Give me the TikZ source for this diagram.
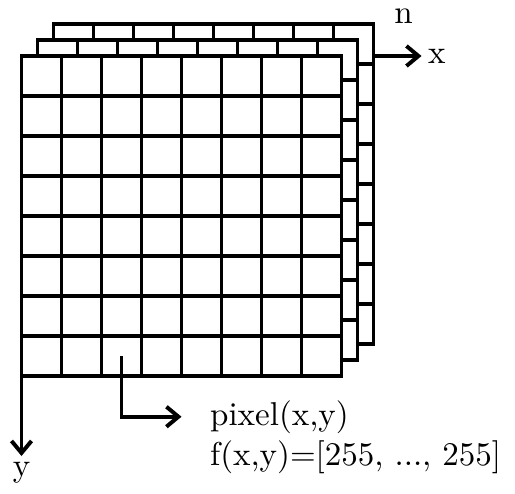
\documentclass[tikz,border=0pt]{standalone}
\usepackage{fontspec}
\setmainfont{lmroman10-regular.otf}
\usepackage{tikz}
\usetikzlibrary{arrows.meta}

\begin{document}
\begin{tikzpicture}[line width=2.8pt,
        axis/.style={-{Straight Barb[length=0.3cm,width=0.5cm]}},
        lbl/.style={font=\fontsize{23.5}{28}\selectfont}]
        \useasboundingbox (-0.5375,1.4) rectangle (12.3375,-10.925);

        \coordinate (O) at (0,0);
        \coordinate (xend) at (10,0);
        \coordinate (yend) at (0,-10);
        \coordinate (pix) at (2.5,-7.5);

        \draw[axis] (O) -- (xend);
        \draw[axis] (O) -- (yend);

        % the n image planes, back to front
        \foreach \d in {0.8,0.4,0} {
                \begin{scope}[shift={(\d,\d)}]
                        \filldraw[fill=white] (0,0) rectangle (8,-8);
                        \draw (0,-8) grid (8,0);
                \end{scope}
        }

        \node[lbl, anchor=west] (xlabel) at (xend) {x};
        \node[lbl, anchor=north] (ylabel) at (yend) {y};
        \node[lbl, inner sep=1pt] (nlabel) at (9.55,1.0) {n};

        \node[lbl, anchor=base west] (pixel) at (4.55,-9.225) {pixel(x,y)};
        \node[lbl, anchor=base west] (value) at (4.55,-10.225) {f(x,y)=[255, ..., 255]};

        \draw[axis] (pix) |- ([xshift=-0.55cm]pixel.west);
\end{tikzpicture}
\end{document}
